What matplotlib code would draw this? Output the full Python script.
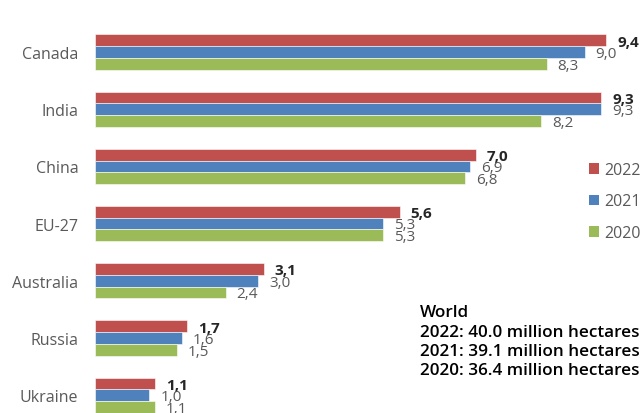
import matplotlib.pyplot as plt
from matplotlib.patches import Patch

plt.rcParams['font.family'] = ['Open Sans', 'DejaVu Sans']

countries = ['Canada', 'India', 'China', 'EU-27', 'Australia', 'Russia', 'Ukraine']
years = ['2022', '2021', '2020']
area_2022 = [9.4, 9.3, 7.0, 5.6, 3.1, 1.7, 1.1]
area_2021 = [9.0, 9.3, 6.9, 5.3, 3.0, 1.6, 1.0]
area_2020 = [8.3, 8.2, 6.8, 5.3, 2.4, 1.5, 1.1]
world_totals = [40.0, 39.1, 36.4]

colors = ['#C0504D', '#4F81BD', '#9BBB59']
series = [area_2022, area_2021, area_2020]

W, H = 644, 414
fig = plt.figure(figsize=(W / 100, H / 100), dpi=100)
# axes in pixel terms: bars start at x=95, 54.4 px per unit
ax = fig.add_axes([95 / W, 0, 544 / W, 1])
ax.set_xlim(0, 10)
# group spacing 57.2 px, first group centre 53 px from top
unit = 57.2
top = -53 / unit
ax.set_ylim(top + H / unit, top)

bar_h = 11.7 / unit
offsets = [-bar_h, 0, bar_h]
for vals, col, off, yr in zip(series, colors, offsets, years):
    ys = [i + off for i in range(len(countries))]
    ax.barh(ys, vals, height=bar_h, color=col, edgecolor='white', linewidth=0.4)
    for y, v in zip(ys, vals):
        bold = yr == '2022'
        ax.annotate(f'{v:.1f}'.replace('.', ','), (v, y), xytext=(8, -1),
                    textcoords='offset points', va='center', ha='left',
                    fontsize=11, color='#262626' if bold else '#595959',
                    fontweight='bold' if bold else 'normal', clip_on=False)

ax.set_yticks(range(len(countries)))
ax.set_yticklabels(countries, fontsize=11.5, color='#595959')
ax.tick_params(axis='y', length=0, pad=12)
ax.set_xticks([])
for s in ax.spines.values():
    s.set_visible(False)

handles = [Patch(facecolor=c, edgecolor='none') for c in colors]
fig.legend(handles, years, loc='upper left', bbox_to_anchor=(589 / W, 1 - 163 / H),
           frameon=False, fontsize=11.5, handlelength=0.65, handleheight=0.65,
           handletextpad=0.3, labelspacing=0.97, borderpad=0, borderaxespad=0,
           labelcolor='#595959')

lines = ['World'] + [f'{yr}: {t:.1f} million hectares' for yr, t in zip(years, world_totals)]
baselines = [317, 337, 356, 375]
for txt, b in zip(lines, baselines):
    fig.text(420 / W, 1 - b / H, txt, fontsize=12.3, fontweight='semibold',
             color='black', va='baseline', ha='left')

fig.savefig('out.png', dpi=100)
